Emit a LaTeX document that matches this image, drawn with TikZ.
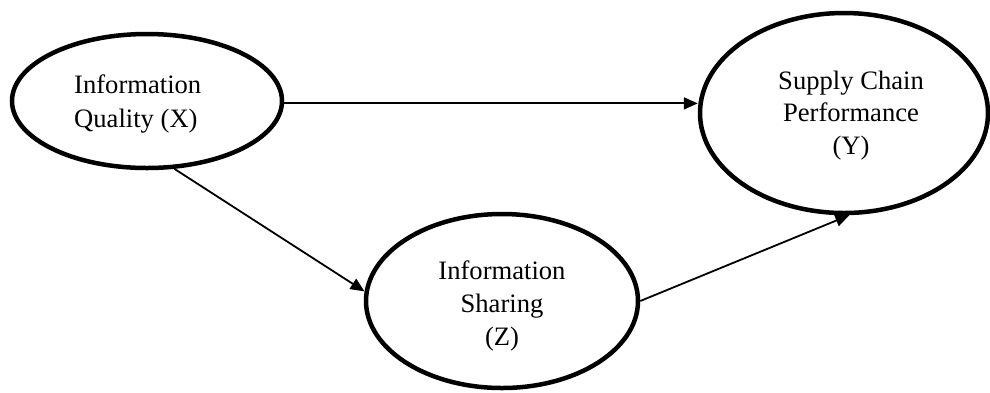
\documentclass[tikz,border=0pt]{standalone}
\usepackage{fontspec}
\setmainfont{Liberation Serif}
\usetikzlibrary{shapes.geometric,arrows.meta}
\begin{document}
\begin{tikzpicture}[x=1pt,y=-1pt,
  oval/.style={draw, ellipse, line width=4.5pt, inner sep=0pt},
  link/.style={line width=1.8pt, -{Triangle[length=14pt,width=12pt]}},
  lbl/.style={inner sep=0pt, anchor=base}]
\useasboundingbox (0,0) rectangle (990,392);
\node[oval, minimum width=270pt, minimum height=134pt] (X) at (147,101) {};
\node[oval, minimum width=288pt, minimum height=200pt] (Y) at (844,113) {};
\node[oval, minimum width=272pt, minimum height=174pt] (Z) at (502,301) {};
\node[lbl, anchor=base west, font=\fontsize{26.6}{34}\selectfont] (Xt) at (74,93)
  {\begin{tabular}[t]{@{}l@{}}Information\\Quality (X)\end{tabular}};
\node[lbl, font=\fontsize{26.6}{32.4}\selectfont] (Yt) at (851,89.3)
  {\begin{tabular}[t]{@{}c@{}}Supply Chain\\Performance\\(Y)\end{tabular}};
\node[lbl, font=\fontsize{26.6}{33.4}\selectfont] (Zt) at (502,279)
  {\begin{tabular}[t]{@{}c@{}}Information\\Sharing\\(Z)\end{tabular}};
\draw[link] (X.-1) -- (X.-1 -| Y.west);
\draw[link] (X.-68) -- (Z.176);
\draw[link] (Z.east) -- (Y.-87);
\end{tikzpicture}
\end{document}
